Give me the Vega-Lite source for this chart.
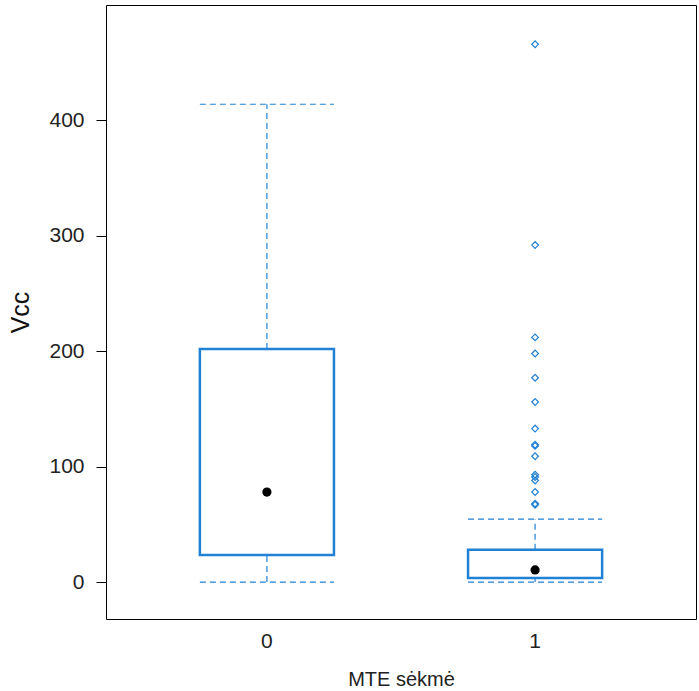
{
  "$schema": "https://vega.github.io/schema/vega-lite/v6.json",
  "width": 590,
  "height": 614,
  "autosize": {"type": "none"},
  "padding": {"left": 106, "top": 5, "right": 3, "bottom": 72},
  "background": "white",
  "config": {
    "view": {"stroke": "black", "strokeWidth": 1},
    "font": "Liberation Sans"
  },
  "datasets": {
    "stats": [
      {"g": "0", "min": 0, "q1": 23.5, "median": 78, "q3": 202, "max": 414},
      {"g": "1", "min": 0, "q1": 3.5, "median": 10.5, "q3": 28, "max": 54.5}
    ],
    "outliers": [
      {"g": "1", "v": 466},
      {"g": "1", "v": 292},
      {"g": "1", "v": 212},
      {"g": "1", "v": 198},
      {"g": "1", "v": 177},
      {"g": "1", "v": 156},
      {"g": "1", "v": 133},
      {"g": "1", "v": 119},
      {"g": "1", "v": 118},
      {"g": "1", "v": 109},
      {"g": "1", "v": 93},
      {"g": "1", "v": 91},
      {"g": "1", "v": 88},
      {"g": "1", "v": 78},
      {"g": "1", "v": 68},
      {"g": "1", "v": 67}
    ]
  },
  "encoding": {
    "x": {
      "field": "g",
      "type": "nominal",
      "scale": {"type": "band", "domain": ["0", "1"], "paddingInner": 0.5, "paddingOuter": 0.35},
      "axis": {
        "title": "MTE sėkmė",
        "labelAngle": 0,
        "labelFontSize": 21,
        "labelColor": "#222222",
        "labelPadding": 11,
        "ticks": false,
        "domain": false,
        "titleFontSize": 20,
        "titleFontWeight": "normal",
        "titleColor": "#222222",
        "titlePadding": 18
      }
    }
  },
  "layer": [
    {
      "data": {"name": "stats"},
      "mark": {"type": "rule", "color": "#2181d4", "strokeDash": [6, 4], "strokeWidth": 1.2},
      "encoding": {
        "y": {
          "field": "q3",
          "type": "quantitative",
          "scale": {"domain": [-32, 500], "nice": false, "zero": false},
          "axis": {
            "values": [0, 100, 200, 300, 400],
            "grid": false,
            "domain": false,
            "tickColor": "black",
            "tickSize": 10,
            "labelFontSize": 21,
            "labelColor": "#222222",
            "labelPadding": 12,
            "title": "Vcc",
            "titleFontSize": 25,
            "titleFontWeight": "normal",
            "titleColor": "#111111",
            "titlePadding": 15
          }
        },
        "y2": {"field": "max"}
      }
    },
    {
      "data": {"name": "stats"},
      "mark": {"type": "rule", "color": "#2181d4", "strokeDash": [6, 4], "strokeWidth": 1.2},
      "encoding": {
        "y": {"field": "min", "type": "quantitative"},
        "y2": {"field": "q1"}
      }
    },
    {
      "data": {"name": "stats"},
      "mark": {"type": "rule", "color": "#2181d4", "strokeDash": [6, 4], "strokeWidth": 1.2},
      "encoding": {
        "x": {"field": "g", "type": "nominal", "bandPosition": 0},
        "x2": {"field": "g", "bandPosition": 1},
        "y": {"field": "max", "type": "quantitative"}
      }
    },
    {
      "data": {"name": "stats"},
      "mark": {"type": "rule", "color": "#2181d4", "strokeDash": [6, 4], "strokeWidth": 1.2},
      "encoding": {
        "x": {"field": "g", "type": "nominal", "bandPosition": 0},
        "x2": {"field": "g", "bandPosition": 1},
        "y": {"field": "min", "type": "quantitative"}
      }
    },
    {
      "data": {"name": "stats"},
      "mark": {"type": "bar", "fill": "white", "stroke": "#2181d4", "strokeWidth": 2.5},
      "encoding": {
        "y": {"field": "q1", "type": "quantitative"},
        "y2": {"field": "q3"}
      }
    },
    {
      "data": {"name": "stats"},
      "mark": {"type": "point", "shape": "circle", "filled": true, "color": "black", "size": 85, "opacity": 1},
      "encoding": {
        "y": {"field": "median", "type": "quantitative"}
      }
    },
    {
      "data": {"name": "outliers"},
      "mark": {"type": "point", "shape": "diamond", "filled": false, "color": "#2181d4", "size": 45, "strokeWidth": 1.2, "opacity": 1},
      "encoding": {
        "y": {"field": "v", "type": "quantitative"}
      }
    }
  ]
}
